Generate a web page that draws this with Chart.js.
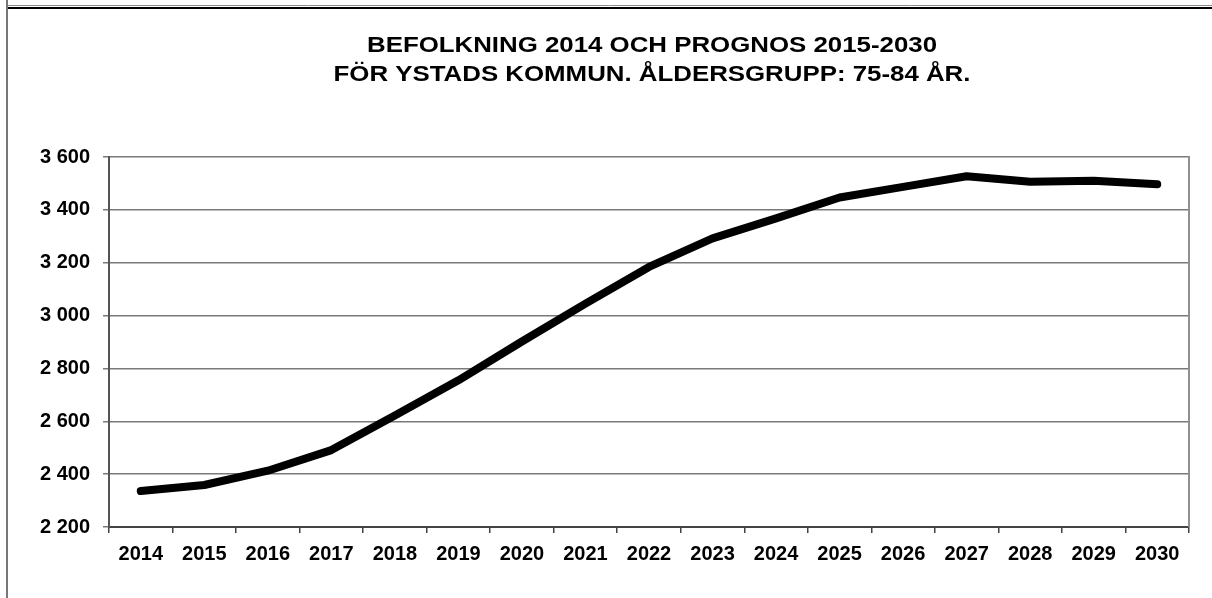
<!DOCTYPE html>
<html>
<head>
<meta charset="utf-8">
<script src="https://cdn.jsdelivr.net/npm/chart.js@4.4.1/dist/chart.umd.min.js"></script>
<style>
  html, body { margin: 0; padding: 0; background: #fff; }
  #wrap { width: 1212px; height: 598px; }
</style>
</head>
<body>
<div id="wrap"><canvas id="chart" width="1212" height="598"></canvas></div>
<script>
  const years = ["2014", "2015", "2016", "2017", "2018", "2019", "2020", "2021", "2022",
    "2023", "2024", "2025", "2026", "2027", "2028", "2029", "2030"];
  const population = [2336, 2359, 2413, 2491, 2622, 2755, 2902, 3045, 3184,
    3292, 3368, 3447, 3487, 3527, 3506, 3510, 3497];
  const titleLines = ["BEFOLKNING 2014 OCH PROGNOS 2015-2030",
    "FÖR YSTADS KOMMUN. ÅLDERSGRUPP: 75-84 ÅR."];
  const yMin = 2200, yMax = 3600, yStep = 200;

  function fmt(v) {
    return String(v).replace(/\B(?=(\d{3})+(?!\d))/g, " ");
  }

  // frame, title and right edge of the plot
  const decor = {
    id: "decor",
    beforeDraw(chart) {
      const ctx = chart.ctx;
      ctx.save();
      ctx.fillStyle = "#fff";
      ctx.fillRect(0, 0, chart.width, chart.height);
      ctx.restore();
    },
    afterDraw(chart) {
      const ctx = chart.ctx;
      const a = chart.chartArea;
      ctx.save();
      // outer frame
      ctx.strokeStyle = "#8a8a8a";
      ctx.lineWidth = 1;
      ctx.beginPath(); ctx.moveTo(7, 5.5); ctx.lineTo(chart.width, 5.5); ctx.stroke();
      ctx.strokeStyle = "#000";
      ctx.lineWidth = 2;
      ctx.beginPath(); ctx.moveTo(7, 8); ctx.lineTo(chart.width, 8); ctx.stroke();
      ctx.strokeStyle = "#777";
      ctx.lineWidth = 2;
      ctx.beginPath(); ctx.moveTo(7, 0); ctx.lineTo(7, chart.height); ctx.stroke();
      // right side of plot area
      ctx.strokeStyle = "#909090";
      ctx.lineWidth = 2;
      ctx.beginPath(); ctx.moveTo(a.right, a.top - 1); ctx.lineTo(a.right, a.bottom); ctx.stroke();
      // title
      ctx.fillStyle = "#000";
      ctx.font = "bold 22px 'Liberation Sans', Arial, sans-serif";
      ctx.textAlign = "center";
      ctx.textBaseline = "middle";
      const w = ctx.measureText(titleLines[0]).width;
      const sx = 570 / w;
      const cx = 652;
      [46, 75].forEach(function (y, i) {
        ctx.save();
        ctx.translate(cx, y);
        ctx.scale(sx, 1);
        ctx.fillText(titleLines[i], 0, 0);
        ctx.restore();
      });
      ctx.restore();
    }
  };

  const tickFont = { family: "'Liberation Sans', Arial, sans-serif", size: 20, weight: "bold" };

  new Chart(document.getElementById("chart"), {
    type: "line",
    data: {
      labels: years,
      datasets: [{
        label: "Befolkning 75-84 år",
        data: population,
        borderColor: "#000",
        borderWidth: 8,
        pointRadius: 0,
        tension: 0,
        borderCapStyle: "round",
        borderJoinStyle: "round",
        fill: false
      }]
    },
    options: {
      responsive: false,
      animation: false,
      layout: { padding: { top: 157, left: 0, right: 23, bottom: 21 } },
      plugins: {
        legend: { display: false },
        title: { display: false },
        tooltip: { enabled: false }
      },
      scales: {
        x: {
          offset: true,
          afterFit: function (s) { s.height = 50; },
          grid: {
            offset: true,
            drawOnChartArea: false,
            drawTicks: true,
            tickLength: 6,
            color: "#444",
            lineWidth: 1.5
          },
          border: { color: "#444", width: 2 },
          ticks: { color: "#000", font: tickFont, padding: 9, maxRotation: 0, autoSkip: false }
        },
        y: {
          min: yMin,
          max: yMax,
          afterFit: function (s) { s.width = 109; },
          grid: { color: "#7a7a7a", lineWidth: 1.5, tickLength: 6 },
          border: { color: "#555", width: 2 },
          ticks: {
            stepSize: yStep,
            color: "#000",
            font: tickFont,
            padding: 13,
            callback: function (v) { return fmt(v); }
          }
        }
      }
    },
    plugins: [decor]
  });
</script>
</body>
</html>
